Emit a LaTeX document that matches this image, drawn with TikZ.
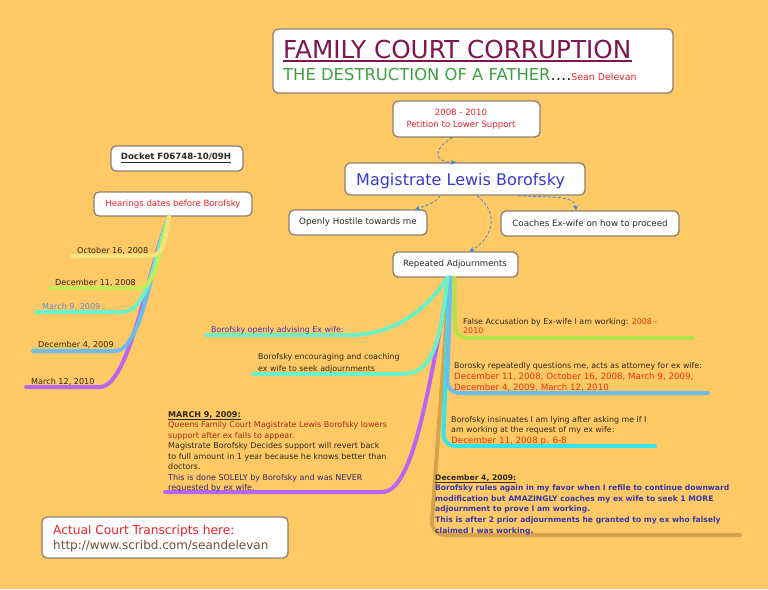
\documentclass[tikz,border=0pt]{standalone}
\usepackage{fontspec}
\setmainfont{DejaVu Sans}
\usetikzlibrary{arrows.meta}
\definecolor{bg}{HTML}{FFC965}
\definecolor{boxc}{HTML}{8C8070}
\definecolor{connc}{HTML}{3B8BD9}
\definecolor{dark}{HTML}{2E2820}
\definecolor{titlec}{HTML}{7E1650}
\definecolor{subc}{HTML}{3FA040}
\definecolor{redc}{HTML}{E8222A}
\definecolor{redd}{HTML}{E83010}
\definecolor{brownred}{HTML}{A02A10}
\definecolor{magc}{HTML}{3A3AD0}
\definecolor{navy}{HTML}{342868}
\definecolor{boldblue}{HTML}{3838A8}
\definecolor{violet}{HTML}{4B2DB0}
\definecolor{datblue}{HTML}{5B8ED6}
\definecolor{urlc}{HTML}{6A5232}
\definecolor{cyel}{HTML}{F6E27E}
\definecolor{clime}{HTML}{C2EC58}
\definecolor{caqua}{HTML}{6CF0C4}
\definecolor{cblue}{HTML}{6EBCEC}
\definecolor{cpurp}{HTML}{B866F2}
\definecolor{ctan}{HTML}{D5A24E}
\definecolor{ccyan}{HTML}{34E4E8}
\definecolor{clime2}{HTML}{B4E24A}
\newcommand\fsz[2]{\fontsize{#1}{#2}\selectfont}
\begin{document}
\begin{tikzpicture}[x=1pt,y=-1pt,
  box/.style={draw=boxc, line width=1.3pt, fill=white, rounded corners=5pt, inner sep=0pt},
  conn/.style={draw=connc, line width=0.8pt, dash pattern=on 3pt off 2pt, -{Stealth[length=5pt,width=5pt]}},
  br/.style={line width=4pt, line cap=round, line join=round},
  txt/.style={inner sep=0pt, anchor=base west, text=dark},
  ctxt/.style={inner sep=0pt, text=dark, align=center},
  para/.style={inner sep=0pt, anchor=north west, align=left, text=dark}]
\fill[bg] (0,0) rectangle (768,589);
\useasboundingbox (0,0) rectangle (768,589);

% ---------- boxes ----------
\node[box, minimum width=400pt, minimum height=64pt] (title) at (473,61) {};
\node[box, minimum width=147pt, minimum height=36pt] (pet) at (466.5,119) {};
\node[box, minimum width=240pt, minimum height=32pt] (mag) at (465,179) {};
\node[box, minimum width=138pt, minimum height=25pt] (host) at (358,222.5) {};
\node[box, minimum width=178pt, minimum height=25pt] (coach) at (590,223.5) {};
\node[box, minimum width=125pt, minimum height=25pt] (rep) at (455.5,264.5) {};
\node[box, minimum width=132pt, minimum height=25pt] (dock) at (177,158.5) {};
\node[box, minimum width=158pt, minimum height=24pt] (hear) at (173,204) {};
\node[box, minimum width=246pt, minimum height=41pt] (court) at (165,537.5) {};

% ---------- box texts ----------
\node[txt, text=titlec] (t1) at (283,58) {\fsz{24.7}{25}FAMILY COURT CORRUPTION};
\draw[titlec, line width=1.4pt] ([yshift=-2.8pt]t1.base west) -- ([yshift=-2.8pt]t1.base east);
\node[txt] (t2) at (283,80) {\fsz{16.4}{17}\color{subc}THE DESTRUCTION OF A FATHER\color{dark}....\fsz{9.4}{10}\color{redc}Sean Delevan};
\node[ctxt, text=redc, font=\fsz{8.6}{11.5}] (pett) at (461,119) {2008 - 2010\\Petition to Lower Support};
\node[txt, text=magc] (magt) at (356,185) {\fsz{16}{16}Magistrate Lewis Borofsky};
\node[ctxt, font=\fsz{8.7}{9}] (hostt) at (358,222) {Openly Hostile towards me};
\node[ctxt, font=\fsz{8.7}{9}] (coacht) at (590,224) {Coaches Ex-wife on how to proceed};
\node[ctxt, font=\fsz{8.6}{9}] (rept) at (455,264) {Repeated Adjournments};
\node[ctxt, font=\bfseries\fsz{8.6}{9}] (dockt) at (176,158) {\underline{Docket F06748-10/09H}};
\node[ctxt, text=redc, font=\fsz{8.6}{9}] (heart) at (173,204) {Hearings dates before Borofsky};
\node[para, font=\fsz{12.2}{15}] (courtt) at (53,525) {\color{redc}Actual Court Transcripts here:\\\color{urlc}\fsz{12}{15}http://www.scribd.com/seandelevan};

% ---------- dashed connectors ----------
\draw[conn] ([xshift=-14pt]pet.south) .. controls (434,148) and (432,162) .. ([xshift=-9pt]mag.north);
\draw[conn] ([xshift=-25pt]mag.south) .. controls (436,203) and (425,206) .. ([xshift=57pt]host.north);
\draw[conn] ([xshift=53pt]mag.south) .. controls (545,198) and (575,194) .. ([xshift=-14pt]coach.north);
\draw[conn] ([xshift=12pt]mag.south) .. controls (502,215) and (490,240) .. ([xshift=14pt]rep.north);

% ---------- left branches (hearing dates) ----------
\coordinate (hs) at ([xshift=-4pt]hear.south);
\coordinate (e1) at (72,256);
\coordinate (e2) at (50,288);
\coordinate (e3) at (36,312);
\coordinate (e4) at (33,351);
\coordinate (e5) at (26,387);
\draw[br, cpurp] (hs) .. controls (150,260) and (130,387) .. (100,387) -- (e5);
\draw[br, cblue] (hs) .. controls (152,260) and (142,351) .. (115,351) -- (e4);
\draw[br, caqua] (hs) .. controls (155,250) and (150,312) .. (122,312) -- (e3);
\draw[br, clime] (hs) .. controls (160,245) and (158,288) .. (138,288) -- (e2);
\draw[br, cyel] (hs) .. controls (166,232) and (166,256) .. (150,256) -- (e1);

\node[txt, font=\fsz{8.1}{9}] (d1) at (77,253) {October 16, 2008};
\node[txt, font=\fsz{8.1}{9}] (d2) at (55,285) {December 11, 2008};
\node[txt, font=\fsz{8.1}{9}, text=datblue] (d3) at (42,309) {March 9, 2009 :};
\node[txt, font=\fsz{8.1}{9}] (d4) at (38,347) {December 4, 2009};
\node[txt, font=\fsz{8.1}{9}] (d5) at (31,384) {March 12, 2010};

% ---------- right branches ----------
\coordinate (r0) at ([xshift=-6pt]rep.south);
\coordinate (f1) at (740,535);
\coordinate (f2) at (165,492);
\coordinate (f3) at (655,446);
\coordinate (f4) at (708,393);
\coordinate (f5) at (693,338);
\coordinate (f6) at (206,335);
\coordinate (f7) at (253,374);
\draw[br, ctan, rounded corners=14pt] (r0) -- (431,535) -- (f1);
\draw[br, cpurp] (r0) .. controls (427,400) and (412,492) .. (382,492) -- (f2);
\draw[br, ccyan, rounded corners=12pt] (r0) -- (443,446) -- (f3);
\draw[br, cblue, rounded corners=12pt] ([xshift=1pt]r0) -- (447,393) -- (f4);
\draw[br, clime2, rounded corners=12pt] ([xshift=5pt]r0) -- (455,338) -- (f5);
\draw[br, caqua] ([xshift=-2pt]r0) .. controls (440,345) and (432,374) .. (402,374) -- (f7);
\draw[br, caqua] ([xshift=-2pt]r0) .. controls (425,312) and (392,335) .. (350,335) -- (f6);

% ---------- right texts ----------
\node[txt, font=\fsz{7.9}{9}, text=violet] (adv) at (211,332) {Borofsky openly advising Ex wife:};
\node[para, font=\fsz{7.9}{11.5}] (enc) at (258,353.5) {Borofsky encouraging and coaching\\ex wife to seek adjournments};
\node[para, font=\fsz{7.9}{9.5}] (fal) at (463,318) {False Accusation by Ex-wife I am working: \textcolor{redd}{2008 -}\\\textcolor{redd}{2010}};
\node[para, font=\fsz{7.9}{11}] (repq) at (454,362) {Borosky repeatedly questions me, acts as attorney for ex wife:\\\color{redd}\fsz{8.7}{11}December 11, 2008, October 16, 2008, March 9, 2009,\\\color{redd}\fsz{8.7}{11}December 4, 2009, March 12, 2010};
\node[para, font=\fsz{7.9}{10.5}] (ins) at (451,416) {Borofsky insinuates I am lying after asking me if I\\am working at the request of my ex wife:\\\color{redd}\fsz{8.7}{10.5}December 11, 2008 p. 6-8};
\node[para, font=\fsz{8}{10.5}] (m9) at (168,411) {\textbf{\underline{MARCH 9, 2009:}}\\
\color{brownred}Queens Family Court Magistrate Lewis Borofsky lowers\\
\color{brownred}support after ex fails to appear.\\
Magistrate Borofsky Decides support will revert back\\
to full amount in 1 year because he knows better than\\
doctors.\\
\color{navy}This is done SOLELY by Borofsky and was NEVER\\
\color{navy}requested by ex wife.};
\node[para, font=\bfseries\fsz{7.6}{10.6}] (d4p) at (435,474.2) {\underline{December 4, 2009:}\\
\color{boldblue}Borofsky rules again in my favor when I refile to continue downward\\
\color{boldblue}modification but AMAZINGLY coaches my ex wife to seek 1 MORE\\
\color{boldblue}adjournment to prove I am working.\\
\color{boldblue}This is after 2 prior adjournments he granted to my ex who falsely\\
\color{boldblue}claimed I was working.};
\end{tikzpicture}
\end{document}
